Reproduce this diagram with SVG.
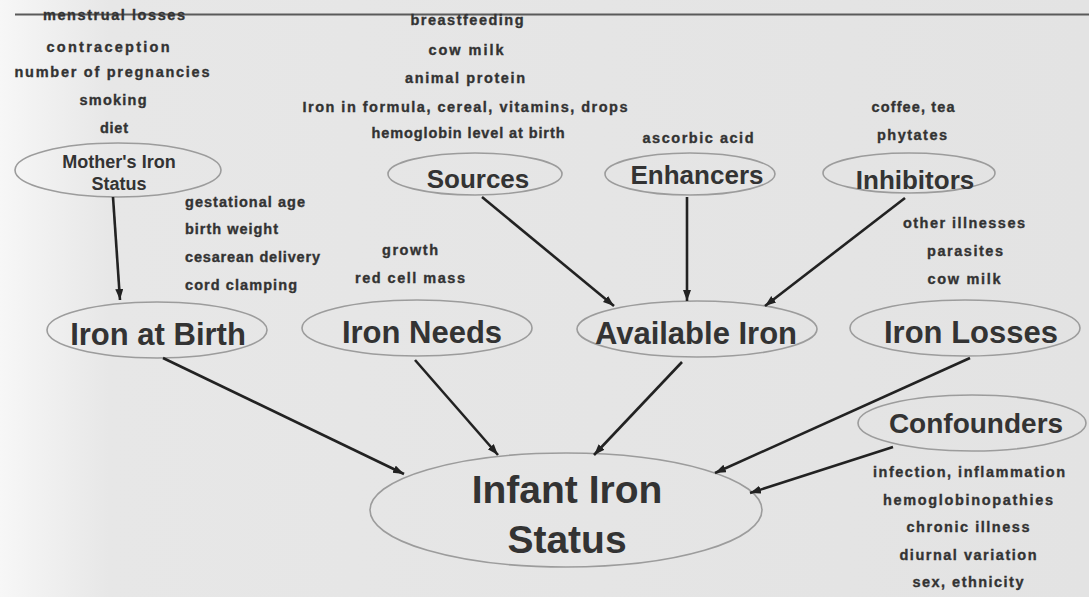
<svg xmlns="http://www.w3.org/2000/svg" width="1089" height="597" viewBox="0 0 1089 597">
  <defs>
    <linearGradient id="bg" x1="0" y1="0" x2="1" y2="0">
      <stop offset="0" stop-color="#f7f7f7"/>
      <stop offset="0.1" stop-color="#e7e7e7"/>
      <stop offset="1" stop-color="#e3e3e3"/>
    </linearGradient>
    <marker id="arr" markerUnits="userSpaceOnUse" markerWidth="12" markerHeight="10" refX="11" refY="4" orient="auto">
      <path d="M0,0 L11,4 L0,8 Z" fill="#222"/>
    </marker>
    <style>
      .e { fill: none; stroke: #9c9c9c; stroke-width: 1.6; }
      .t { font-family: "Liberation Sans", Arial, sans-serif; font-weight: bold; fill: #333; text-anchor: middle; }
      .s { font-family: "Liberation Sans", Arial, sans-serif; font-weight: bold; fill: #333; font-size: 14.5px; stroke: #333; stroke-width: 0.35; }
      .c { text-anchor: middle; }
      .big { font-size: 31px; }
      .mid { font-size: 26px; }
      .con { stroke: #222; stroke-width: 2.6; fill: none; marker-end: url(#arr); }
    </style>
  </defs>
  <rect x="0" y="0" width="1089" height="597" fill="url(#bg)"/>
  <line x1="15" y1="14.5" x2="1089" y2="14.5" stroke="#5a5a5a" stroke-width="2"/>

  <g id="mother">
    <text class="s c" x="114" y="20" textLength="142">menstrual losses</text>
    <text class="s c" x="108" y="52" textLength="123">contraception</text>
    <text class="s c" x="112" y="77" textLength="195">number of pregnancies</text>
    <text class="s c" x="113" y="105" textLength="67">smoking</text>
    <text class="s c" x="114" y="133" textLength="28">diet</text>
    <ellipse class="e" cx="118" cy="170" rx="103" ry="27"/>
    <text class="t" x="119" y="168" font-size="18">Mother's Iron</text>
    <text class="t" x="119" y="190" font-size="18">Status</text>
  </g>

  <g id="sources">
    <text class="s c" x="467" y="25" textLength="113">breastfeeding</text>
    <text class="s c" x="466" y="55" textLength="75">cow milk</text>
    <text class="s c" x="465" y="83" textLength="120">animal protein</text>
    <text class="s c" x="465" y="112" textLength="325">Iron in formula, cereal, vitamins, drops</text>
    <text class="s c" x="468" y="138" textLength="193">hemoglobin level at birth</text>
    <ellipse class="e" cx="475" cy="174" rx="87" ry="21"/>
    <text class="t mid" x="478" y="188">Sources</text>
  </g>

  <g id="enhancers">
    <text class="s c" x="698" y="143" textLength="111">ascorbic acid</text>
    <ellipse class="e" cx="690" cy="174" rx="85" ry="21"/>
    <text class="t mid" x="697" y="184">Enhancers</text>
  </g>

  <g id="inhibitors">
    <text class="s c" x="913" y="112" textLength="83">coffee, tea</text>
    <text class="s c" x="912" y="140" textLength="70">phytates</text>
    <ellipse class="e" cx="909" cy="173" rx="86" ry="20"/>
    <text class="t mid" x="915" y="189">Inhibitors</text>
  </g>

  <g id="iron-at-birth">
    <text class="s" x="185" y="207" textLength="120">gestational age</text>
    <text class="s" x="185" y="234" textLength="93">birth weight</text>
    <text class="s" x="185" y="262" textLength="135">cesarean delivery</text>
    <text class="s" x="185" y="290" textLength="112">cord clamping</text>
    <ellipse class="e" cx="157" cy="330" rx="110" ry="28"/>
    <text class="t big" x="158" y="345">Iron at Birth</text>
  </g>

  <g id="iron-needs">
    <text class="s c" x="410" y="255" textLength="56">growth</text>
    <text class="s c" x="410" y="283" textLength="110">red cell mass</text>
    <ellipse class="e" cx="417" cy="328" rx="115" ry="28"/>
    <text class="t big" x="422" y="343">Iron Needs</text>
  </g>

  <g id="available-iron">
    <ellipse class="e" cx="697" cy="329" rx="120" ry="28"/>
    <text class="t big" x="696" y="344">Available Iron</text>
  </g>

  <g id="iron-losses">
    <text class="s c" x="964" y="228" textLength="122">other illnesses</text>
    <text class="s c" x="965" y="256" textLength="76">parasites</text>
    <text class="s c" x="964" y="284" textLength="73">cow milk</text>
    <ellipse class="e" cx="965" cy="328" rx="115" ry="28"/>
    <text class="t big" x="971" y="343">Iron Losses</text>
  </g>

  <g id="confounders">
    <ellipse class="e" cx="972" cy="423" rx="114" ry="28"/>
    <text class="t" x="976" y="433" font-size="28">Confounders</text>
    <text class="s c" x="969" y="477" textLength="192">infection, inflammation</text>
    <text class="s c" x="968" y="505" textLength="170">hemoglobinopathies</text>
    <text class="s c" x="968" y="532" textLength="123">chronic illness</text>
    <text class="s c" x="968" y="560" textLength="137">diurnal variation</text>
    <text class="s c" x="968" y="587" textLength="111">sex, ethnicity</text>
  </g>

  <g id="infant-iron-status">
    <ellipse class="e" cx="566" cy="510" rx="196" ry="57"/>
    <text class="t" x="567" y="503" font-size="39">Infant Iron</text>
    <text class="t" x="567" y="553" font-size="39">Status</text>
  </g>

  <g id="connectors">
    <line class="con" x1="113" y1="197" x2="120" y2="300"/>
    <line class="con" x1="482" y1="197" x2="614" y2="306"/>
    <line class="con" x1="687" y1="197" x2="687" y2="301"/>
    <line class="con" x1="905" y1="198" x2="765" y2="306"/>
    <line class="con" x1="163" y1="358" x2="404" y2="474"/>
    <line class="con" x1="415" y1="360" x2="498" y2="455"/>
    <line class="con" x1="682" y1="362" x2="594" y2="455"/>
    <line class="con" x1="970" y1="358" x2="715" y2="473"/>
    <line class="con" x1="893" y1="447" x2="750" y2="493"/>
  </g>
</svg>
